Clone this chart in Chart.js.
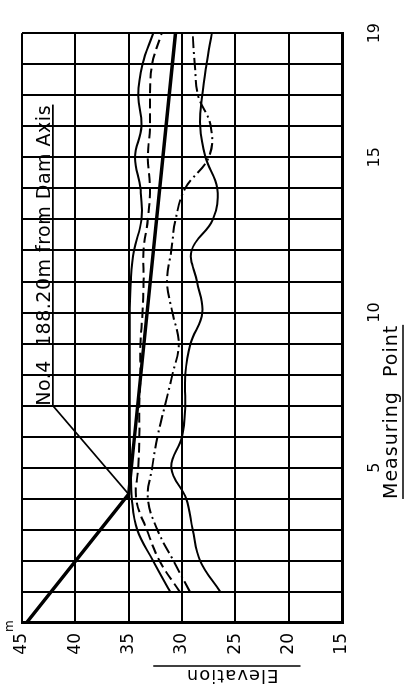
<!DOCTYPE html>
<html>
<head>
<meta charset="utf-8">
<script src="https://cdn.jsdelivr.net/npm/chart.js@4.4.0/dist/chart.umd.min.js"></script>
<style>
  html, body { margin: 0; padding: 0; background: #fff; }
  #wrap { position: relative; width: 405px; height: 691px; overflow: hidden; }
  /* chart is drawn upright and turned a quarter turn, like the scanned sheet */
  #chart { position: absolute; left: 0; top: 0; transform-origin: 0 0; transform: translate(0, 691px) rotate(-90deg); }
</style>
</head>
<body>
<div id="wrap"><canvas id="chart" width="691" height="405"></canvas></div>
<script>
const points = [1, 2, 3, 4, 5, 6, 7, 8, 9, 10, 11, 12, 13, 14, 15, 16, 17, 18, 19];

// dam face (thick straight line)
const facePoints = [0, 4.15, 19];
const faceElev = [44.6, 35, 30.6];

const elevSolidUpper = [31.1, 32.7, 34.2, 34.7, 34.8, 34.9, 34.9, 34.9, 34.9, 34.9, 34.8, 34.5, 33.8, 33.9, 34.4, 33.8, 34.1, 33.7, 32.7];
const elevDashed = [30.2, 32.1, 33.3, 34.3, 34.1, 34.0, 34.0, 33.9, 33.9, 33.7, 33.6, 33.6, 33.2, 33.0, 33.2, 33.0, 33.0, 32.8, 31.9];
const elevDashDot = [29.25, 30.8, 32.3, 33.2, 32.8, 32.3, 31.6, 30.9, 30.3, 30.9, 31.4, 31.0, 30.6, 29.7, 27.5, 27.3, 28.5, 28.8, 29.0];
const elevSolidLower = [26.4, 28.3, 29.0, 29.6, 31.0, 30.0, 29.7, 29.7, 29.2, 28.1, 28.6, 29.1, 27.1, 26.7, 27.8, 28.3, 28.1, 27.7, 27.2];

const pointTicks = [5, 10, 15, 19];
const elevTicks = [45, 40, 35, 30, 25, 20, 15];

const noteText = 'No.4  188.20m from Dam Axis';
const noteLine = [{ x: 7.0, y: 42.1 }, { x: 16.7, y: 42.1 }];
const noteLeader = [{ x: 7.0, y: 42.1 }, { x: 4.15, y: 35.0 }];

const FONT = '"DejaVu Sans", sans-serif';

const toXY = (xs, ys) => xs.map((x, i) => ({ x: x, y: ys[i] }));

const thin = (data, dash) => ({
    data: data,
    borderColor: '#000',
    borderWidth: 2,
    borderDash: dash,
    pointRadius: 0,
    tension: 0.4,
    fill: false
});

const textPlugin = {
    id: 'sheetText',
    afterDraw(chart) {
        const c = chart.ctx;
        const xs = chart.scales.x;
        const ys = chart.scales.y;
        c.save();
        c.fillStyle = '#000';
        c.strokeStyle = '#000';

        // note above its underline
        c.font = '19px ' + FONT;
        c.letterSpacing = '0.5px';
        c.textAlign = 'left';
        c.textBaseline = 'alphabetic';
        c.fillText(noteText, xs.getPixelForValue(7.0), ys.getPixelForValue(42.1) - 3);

        // unit on the top tick
        c.letterSpacing = '0px';
        c.font = '12px ' + FONT;
        c.fillText('m', 59, ys.getPixelForValue(45) - 9);

        // x axis title
        c.font = '19px ' + FONT;
        c.letterSpacing = '1px';
        const mx = xs.getPixelForValue(6.8);
        const mw = c.measureText('Measuring  Point').width;
        c.textAlign = 'center';
        c.fillText('Measuring  Point', mx, 397);
        c.lineWidth = 1.5;
        c.beginPath();
        c.moveTo(mx - mw / 2, 403);
        c.lineTo(mx + mw / 2, 403);
        c.stroke();

        // y axis title
        c.save();
        c.font = '18px ' + FONT;
        c.translate(21, ys.getPixelForValue(25.3));
        c.rotate(-Math.PI / 2);
        c.textAlign = 'center';
        c.fillText('Elevation', 0, 0);
        c.restore();
        c.beginPath();
        c.moveTo(25, ys.getPixelForValue(32.7));
        c.lineTo(25, ys.getPixelForValue(18.9));
        c.stroke();

        c.restore();
    }
};

new Chart(document.getElementById('chart'), {
    type: 'line',
    data: {
        datasets: [
            {
                data: toXY(facePoints, faceElev),
                borderColor: '#000',
                borderWidth: 3.5,
                pointRadius: 0,
                tension: 0
            },
            thin(toXY(points, elevSolidUpper), []),
            thin(toXY(points, elevDashed), [10, 5]),
            thin(toXY(points, elevDashDot), [12, 4, 2, 4]),
            thin(toXY(points, elevSolidLower), []),
            { data: noteLine, borderColor: '#000', borderWidth: 1.8, pointRadius: 0, tension: 0 },
            { data: noteLeader, borderColor: '#000', borderWidth: 1.8, pointRadius: 0, tension: 0 }
        ]
    },
    options: {
        responsive: false,
        animation: false,
        devicePixelRatio: 1,
        layout: { padding: { left: 0, right: 15, top: 22, bottom: 0 } },
        plugins: { legend: { display: false }, tooltip: { enabled: false } },
        scales: {
            x: {
                type: 'linear',
                min: 0,
                max: 19,
                afterFit: (s) => { s.height = 63; },
                afterBuildTicks: (s) => { s.ticks = points.concat([0]).sort((a, b) => a - b).map(v => ({ value: v })); },
                ticks: {
                    padding: 23,
                    maxRotation: 0,
                    autoSkip: false,
                    color: '#000',
                    font: { family: FONT, size: 16 },
                    callback: (v) => pointTicks.includes(v) ? String(v) : ''
                },
                grid: { color: '#000', lineWidth: 2, drawTicks: false },
                border: { color: '#000', width: 3 }
            },
            y: {
                type: 'linear',
                min: 15,
                max: 45,
                afterFit: (s) => { s.width = 68; },
                afterBuildTicks: (s) => { s.ticks = elevTicks.map(v => ({ value: v })); },
                ticks: {
                    padding: 10,
                    color: '#000',
                    font: { family: FONT, size: 17 }
                },
                grid: { color: '#000', lineWidth: 2, drawTicks: false },
                border: { color: '#000', width: 3 }
            }
        }
    },
    plugins: [textPlugin]
});
</script>
</body>
</html>
